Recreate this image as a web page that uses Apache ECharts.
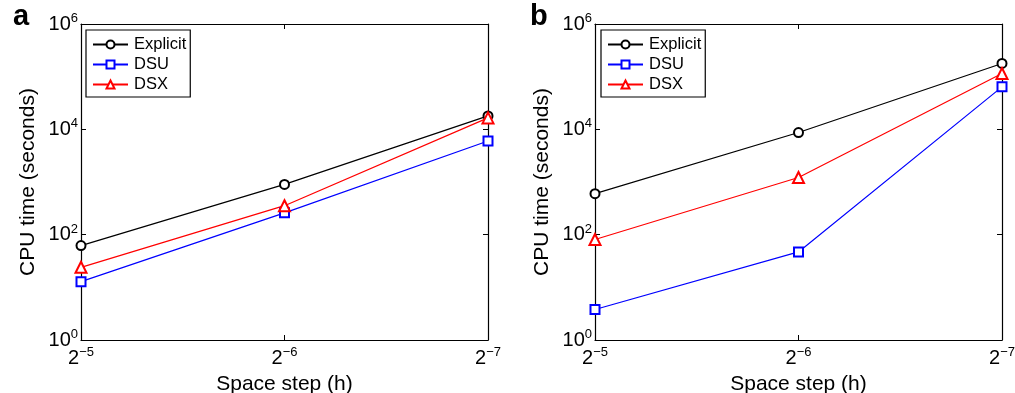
<!DOCTYPE html>
<html>
<head>
<meta charset="utf-8">
<script src="https://cdn.jsdelivr.net/npm/echarts@6/dist/echarts.min.js"></script>
<style>
  html, body { margin: 0; padding: 0; background: #fff; }
  #chart { width: 1015px; height: 393px; }
</style>
</head>
<body>
<div id="chart"></div>
<script>
// space step categories (exponent of 2)
const steps = [-5, -6, -7]
const seriesNames = ['Explicit', 'DSU', 'DSX']

// panel a, CPU time in seconds
const explicitA = [62, 900, 18000]
const dsuA = [12.8, 260, 6000]
const dsxA = [24, 355, 16500]

// panel b
const explicitB = [600, 8700, 178000]
const dsuB = [3.8, 47, 64000]
const dsxB = [81, 1220, 115000]

const FONT = 'Liberation Sans, Arial, sans-serif'
const colors = ['#000000', '#0000ff', '#ff0000']
const symbols = ['emptyCircle', 'emptyRect', 'emptyTriangle']

const chart = echarts.init(document.getElementById('chart'), null, { renderer: 'canvas' })

const supRich = {
  b: { fontSize: 20, fontFamily: FONT, color: '#000', lineHeight: 24 },
  s: { fontSize: 13, fontFamily: FONT, color: '#000', verticalAlign: 'top', lineHeight: 24, padding: [0, 0, 10, 0] }
}

const grids = [
  { left: 81, top: 24, width: 407, height: 316, outerBoundsMode: 'none', containLabel: false },
  { left: 595, top: 24, width: 407, height: 316, outerBoundsMode: 'none', containLabel: false }
]

const xAxes = []
const yAxes = []
grids.forEach((g, i) => {
  xAxes.push({
    type: 'category', gridIndex: i, data: steps, boundaryGap: false,
    axisLine: { lineStyle: { color: '#000', width: 1.2 } },
    axisTick: { inside: true, length: 5, lineStyle: { color: '#000' } },
    axisLabel: {
      margin: 6,
      formatter: v => '{b|2}{s|\u2212' + Math.abs(v) + '}',
      rich: supRich
    },
    name: 'Space step (h)', nameLocation: 'middle', nameGap: 32,
    nameTextStyle: { fontSize: 21, fontFamily: FONT, color: '#000' }
  })
  xAxes.push({
    type: 'category', gridIndex: i, data: steps, boundaryGap: false, position: 'top',
    axisLine: { lineStyle: { color: '#000', width: 1.2 } },
    axisTick: { inside: true, length: 5, lineStyle: { color: '#000' } },
    axisLabel: { show: false }
  })
  yAxes.push({
    type: 'log', logBase: 10, gridIndex: i, min: 1, max: 1e6, interval: 2,
    splitLine: { show: false },
    axisLine: { show: true, lineStyle: { color: '#000', width: 1.2 } },
    axisTick: { show: true, inside: true, length: 5, lineStyle: { color: '#000' } },
    axisLabel: {
      margin: 3,
      formatter: v => '{b|10}{s|' + Math.round(Math.log10(v)) + '}',
      rich: supRich
    },
    name: 'CPU time (seconds)', nameLocation: 'middle', nameGap: 42,
    nameTextStyle: { fontSize: 21, fontFamily: FONT, color: '#000' }
  })
  yAxes.push({
    type: 'log', logBase: 10, gridIndex: i, min: 1, max: 1e6, interval: 2, position: 'right',
    splitLine: { show: false },
    axisLine: { show: true, lineStyle: { color: '#000', width: 1.2 } },
    axisTick: { show: true, inside: true, length: 5, lineStyle: { color: '#000' } },
    axisLabel: { show: false }
  })
})

const panelData = [[explicitA, dsuA, dsxA], [explicitB, dsuB, dsxB]]
const series = []
panelData.forEach((sets, p) => {
  sets.forEach((vals, k) => {
    series.push({
      name: seriesNames[k], type: 'line',
      xAxisIndex: p * 2, yAxisIndex: p * 2,
      data: vals,
      symbol: symbols[k], symbolSize: k === 2 ? 11 : 9,
      lineStyle: { color: colors[k], width: 1.2 },
      itemStyle: { color: colors[k], borderWidth: 1.2 },
      animation: false
    })
  })
})

const legendBase = {
  orient: 'vertical', top: 30,
  padding: [6, 4, 4, 6], itemGap: 3, itemWidth: 35, itemHeight: 10,
  borderColor: '#000', borderWidth: 1.2, backgroundColor: '#fff',
  textStyle: { fontSize: 16.5, fontFamily: FONT, color: '#000', padding: [0, 0, 0, 1] },
  data: seriesNames
}

const letterStyle = { fontSize: 29, fontWeight: 'bold', fontFamily: FONT, color: '#000' }

chart.setOption({
  animation: false,
  title: [
    { text: 'a', left: 8, top: -3, textStyle: letterStyle },
    { text: 'b', left: 525, top: -3, textStyle: letterStyle }
  ],
  legend: [
    Object.assign({}, legendBase, { left: 86 }),
    Object.assign({}, legendBase, { left: 601 })
  ],
  grid: grids,
  xAxis: xAxes,
  yAxis: yAxes,
  series: series
})
</script>
</body>
</html>
